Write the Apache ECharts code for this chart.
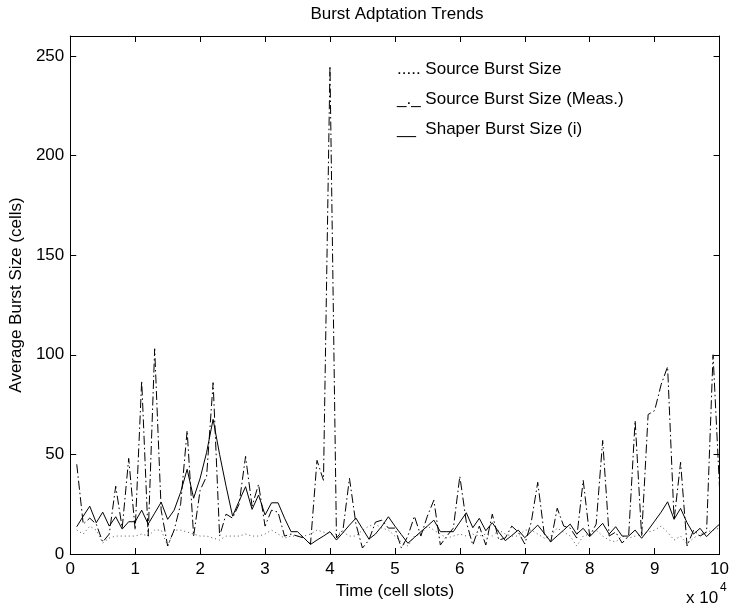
<!DOCTYPE html>
<html><head><meta charset="utf-8">
<script src="https://cdn.jsdelivr.net/npm/echarts@6/dist/echarts.min.js"></script>
<style>html,body{margin:0;padding:0;background:#fff}#c{width:732px;height:608px}</style>
</head><body><div id="c"></div>
<script>
// time in units of 10^4 cell slots
const times = [0.1,0.2,0.3,0.4,0.5,0.6,0.7,0.8,0.9,1.0,
  1.1,1.2,1.3,1.4,1.5,1.6,1.7,1.8,1.9,2.0,
  2.1,2.2,2.3,2.4,2.5,2.6,2.7,2.8,2.9,3.0,
  3.1,3.2,3.3,3.4,3.5,3.6,3.7,3.8,3.9,4.0,
  4.1,4.2,4.3,4.4,4.5,4.6,4.7,4.8,4.9,5.0,
  5.1,5.2,5.3,5.4,5.5,5.6,5.7,5.8,5.9,6.0,
  6.1,6.2,6.3,6.4,6.5,6.6,6.7,6.8,6.9,7.0,
  7.1,7.2,7.3,7.4,7.5,7.6,7.7,7.8,7.9,8.0,
  8.1,8.2,8.3,8.4,8.5,8.6,8.7,8.8,8.9,9.0,
  9.1,9.2,9.3,9.4,9.5,9.6,9.7,9.8,9.9,10.0];

const sourceBurst = [12,10,14,12,5.5,8,9,9,9,9,
  10,9,12,12,4,12,12,11,10,9,
  9,8,7,9,9,9,10,9,9,10,
  12,10,8,9,9,9,10,12,11,10,
  10,11,9,9,12,14,15,13,12,9,
  6,4,9,10,14,12,10,8,9,10,
  9,10,9,10,9,12,10,9,9,12,
  12,10,8,9,13,11,9,4,9,10,
  12,9,7,6,9,8,9,10,11,12,
  14,11,7,9,5,8,10,11,12,13];

const measuredBurst = [45,15,18,15,6,10,34,13,48,12,
  87,9,103,22,4,12,25,62,9,32,
  39,86,9,20,18,25,49,24,35,14,
  22,21,9,10,9,8,5,47,37,245,
  8,12,38,15,3,7,16,17,13,13,
  3,9,19,9,19,27,4.5,9,13,39,
  16,4.5,14,4.5,20,7,8,14,11,5,
  16,36,10,6,23,14,13,8,37,9,
  15,57,9,11,5.5,9,67,9,70,72,
  85,94,17,46,4,12,9,11,100,33];

const shaperBurst = [13.7,19,24,15.7,21,14,18.7,12.5,16.2,16.2,
  22,15,20.5,26,17.4,22,31,42.5,28,38,
  51,67.6,50,34,19,26.5,33.8,22.4,29.6,19.6,
  25.7,25.7,18,11.2,11.2,8,4.8,7,9,11.2,
  7,10.7,14.5,18,12.7,7.5,10,14,18.7,14,
  9.7,5.4,8.3,11.2,14,17,11.2,11.2,11.2,16,
  20.7,13.2,17.9,11.7,15.7,11,6.7,9.3,12,8.2,
  11.3,14.5,10.4,6.2,9.1,12,15,10,12.9,8.7,
  12,15.4,10,13.7,9,9,12,7.9,12,16.5,
  21,26.2,17.4,22.9,15.7,10,12.9,8.7,12,15];

const titleText = 'Burst Adptation Trends';
const xName = 'Time (cell slots)';
const yName = 'Average Burst Size (cells)';
const legendLines = ['..... Source Burst Size', '_._ Source Burst Size (Meas.)', '__  Shaper Burst Size (i)'];

const FONT = "'Liberation Sans', Arial, Helvetica, sans-serif";
const FS = 17;
const pair = arr => times.map((t, i) => [t, arr[i]]);

const baseAxis = {
  type: 'value',
  axisLine: { show: true, onZero: false, lineStyle: { color: '#000', width: 1 } },
  axisTick: { show: true, inside: true, length: 6, lineStyle: { color: '#000', width: 1 } },
  splitLine: { show: false },
  axisLabel: { color: '#000', fontSize: FS, fontFamily: FONT }
};

const chart = echarts.init(document.getElementById('c'), null, { renderer: 'canvas' });
chart.setOption({
  animation: false,
  backgroundColor: '#fff',
  grid: { left: 68, right: 6.5, top: 36, bottom: 54, containLabel: false },
  xAxis: [
    Object.assign({}, baseAxis, {
      min: 0, max: 10, interval: 1, position: 'bottom',
      axisLabel: Object.assign({}, baseAxis.axisLabel, { margin: 7 }),
      name: xName, nameLocation: 'middle', nameGap: 28,
      nameTextStyle: { color: '#000', fontSize: FS, fontFamily: FONT }
    }),
    Object.assign({}, baseAxis, {
      min: 0, max: 10, interval: 1, position: 'top',
      axisLabel: { show: false }
    })
  ],
  yAxis: [
    Object.assign({}, baseAxis, {
      min: 0, max: 260, interval: 50, position: 'left',
      axisLabel: Object.assign({}, baseAxis.axisLabel, { margin: 6, showMaxLabel: false }),
      name: yName, nameLocation: 'middle', nameGap: 36,
      nameTextStyle: { color: '#000', fontSize: FS, fontFamily: FONT }
    }),
    Object.assign({}, baseAxis, {
      min: 0, max: 260, interval: 50, position: 'right',
      axisLabel: { show: false }
    })
  ],
  series: [
    { name: 'Source Burst Size', type: 'line', data: pair(sourceBurst), symbol: 'none',
      lineStyle: { color: '#555', width: 1, type: [1, 3] } },
    { name: 'Source Burst Size (Meas.)', type: 'line', data: pair(measuredBurst), symbol: 'none',
      lineStyle: { color: '#000', width: 1, type: [9, 3, 1.5, 3] } },
    { name: 'Shaper Burst Size (i)', type: 'line', data: pair(shaperBurst), symbol: 'none',
      lineStyle: { color: '#000', width: 1, type: 'solid' } }
  ],
  graphic: [
    { type: 'text', x: 397, y: 14, style: { text: titleText, fill: '#000', font: FS + 'px ' + FONT, textAlign: 'center', textVerticalAlign: 'middle' } },
    { type: 'text', x: 397, y: 69, style: { text: legendLines[0], fill: '#000', font: FS + 'px ' + FONT, textAlign: 'left', textVerticalAlign: 'middle' } },
    { type: 'text', x: 397, y: 99, style: { text: legendLines[1], fill: '#000', font: FS + 'px ' + FONT, textAlign: 'left', textVerticalAlign: 'middle' } },
    { type: 'text', x: 397, y: 129, style: { text: legendLines[2], fill: '#000', font: FS + 'px ' + FONT, textAlign: 'left', textVerticalAlign: 'middle' } },
    { type: 'text', x: 686, y: 598, style: { text: 'x 10', fill: '#000', font: FS + 'px ' + FONT, textAlign: 'left', textVerticalAlign: 'middle' } },
    { type: 'text', x: 720, y: 588, style: { text: '4', fill: '#000', font: '12px ' + FONT, textAlign: 'left', textVerticalAlign: 'middle' } }
  ]
});
</script>
</body></html>
